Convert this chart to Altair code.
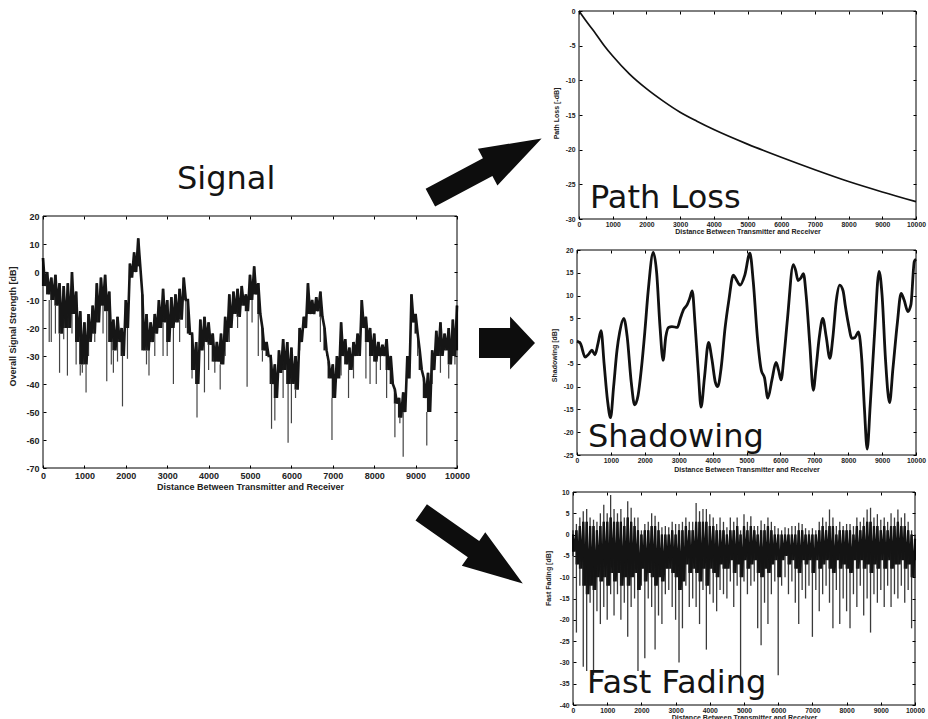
import altair as alt
import pandas as pd

# ------------------------------------------------------------------ data
dist = list(range(0, 10001, 100))
x_ticks = [0, 1000, 2000, 3000, 4000, 5000, 6000, 7000, 8000, 9000, 10000]

# Overall signal: top and bottom of the dark band, every 100 m
sig_upper = [5, 0, -2, -1, -4, -5, -4, 0, -7, -14,
             -18, -15, -12, -4, -2, -1, -7, -17, -16, -20,
             -10, 3, 7, 12, -8, -15, -18, -15, -10, -6,
             -10, -9, -8, -6, -2, -10, -22, -25, -17, -16,
             -18, -22, -25, -22, -16, -8, -7, -6, -5, -8,
             -1, 2, -4, -20, -25, -30, -33, -28, -24, -25,
             -27, -30, -20, -16, -4, -10, -9, -7, -20, -32,
             -33, -30, -18, -24, -27, -25, -22, -10, -16, -20,
             -22, -25, -26, -24, -30, -42, -45, -43, -30, -8,
             -15, -28, -38, -36, -28, -21, -18, -22, -20, -17, -12]
sig_lower = [-5, -8, -10, -12, -22, -20, -20, -15, -25, -33,
             -33, -25, -22, -18, -12, -14, -25, -28, -25, -30,
             -20, -2, 0, 2, -28, -28, -25, -22, -20, -18,
             -25, -20, -18, -17, -10, -22, -35, -40, -28, -25,
             -26, -32, -32, -33, -25, -20, -15, -16, -12, -14,
             -10, -8, -15, -28, -30, -40, -45, -36, -35, -40,
             -40, -42, -25, -20, -15, -15, -14, -16, -28, -38,
             -45, -38, -30, -33, -35, -30, -30, -20, -25, -30,
             -32, -30, -30, -35, -40, -47, -52, -50, -38, -18,
             -22, -35, -45, -50, -35, -30, -30, -28, -33, -30, -28]
# grey excursions hanging below the band
sig_spike_x = [150, 200, 300, 400, 500, 590, 700, 800, 900, 950, 1040, 1100,
               1250, 1450, 1540, 1650, 1700, 1800, 1920, 2040, 2500, 2560,
               2700, 2900, 3000, 3150, 3300, 3450, 3600, 3720, 3900, 4000,
               4150, 4280, 4400, 4500, 4700, 4930, 5050, 5200, 5300, 5520,
               5600, 5800, 5920, 6000, 6100, 6200, 6700, 6850, 6980, 7050,
               7200, 7380, 7500, 7650, 7800, 7900, 8050, 8150, 8300, 8500,
               8620, 8700, 9050, 9270, 9400, 9600, 9800, 9950]
sig_spike_y = [-25, -25, -22, -36, -24, -37, -22, -33, -37, -36, -43, -30,
               -25, -22, -39, -33, -36, -32, -48, -31, -33, -37,
               -30, -30, -30, -40, -25, -20, -38, -52, -43, -35,
               -36, -42, -30, -25, -20, -41, -18, -30, -32, -56,
               -53, -45, -61, -54, -45, -28, -25, -30, -60, -45,
               -37, -45, -38, -30, -38, -40, -40, -35, -45, -59,
               -54, -66, -30, -62, -40, -36, -38, -33]

# Path loss
pl_x = [0, 250, 500, 750, 1000, 1500, 2000, 2500, 3000, 3500, 4000,
        5000, 6000, 7000, 8000, 9000, 10000]
pl_y = [0, -1.7, -3.3, -5.0, -6.5, -9.1, -11.2, -13.0, -14.6, -15.9, -17.1,
        -19.2, -21.1, -22.9, -24.6, -26.1, -27.5]

# Shadowing
sh_x = [0, 100, 240, 350, 440, 530, 620, 710, 800, 900, 990, 1080, 1180, 1260,
        1380, 1480, 1600, 1700, 1800, 1900, 2000, 2100, 2250, 2350, 2450, 2540,
        2620, 2700, 2800, 2960, 3050, 3150, 3250, 3330, 3400, 3480, 3580, 3660,
        3760, 3880, 3980, 4080, 4150, 4250, 4370, 4480, 4610, 4700, 4810, 4950,
        5100, 5200, 5320, 5440, 5530, 5630, 5750, 5870, 5950, 6020, 6110, 6210,
        6380, 6450, 6520, 6600, 6680, 6760, 6870, 6970, 7050, 7150, 7250, 7350,
        7460, 7550, 7650, 7750, 7850, 7910, 8000, 8110, 8200, 8300, 8400, 8480,
        8560, 8650, 8780, 8910, 9000, 9100, 9220, 9320, 9450, 9560, 9650, 9760,
        9850, 9950, 10000]
sh_y = [0, -0.5, -3.5, -2.8, -2, -3, -0.5, 2.3, -5, -13, -16.8, -10, -2, 2,
        5, 1, -9, -14, -12, -6, 2, 11, 19.5, 15, 3, -4.2,
        1, 3, 3.2, 3, 5, 7, 8, 9.5, 11, 4, -7, -14.5,
        -8, -0.3, -4, -9, -10, -6, 3, 9, 14.5, 13.5, 12.3, 14.5,
        19.3, 13, 1, -6.5, -8, -12.5, -8.5, -4.7, -6.5, -8.5, -3, 5,
        16.8, 15.5, 13.3, 13.8, 14.8, 10, -1, -10.8, -6, 1, 5, 1,
        -3.8, 1, 9, 12.3, 11, 8, 4, 0.6, 0.8, 2, -4, -15,
        -23.7, -14, 2, 15.3, 10, -4, -13.5, -6, 4, 10.5, 9, 6.5,
        8, 17.5, 18]

# Fast fading: extremes and dense core, every 100 m
ff_hi = [1, 2.5, 4, 5.5, 6, 4, 3.5, 3, 5, 7,
         5, 9.3, 6, 5, 6, 4, 7.8, 6.3, 4, 4,
         1, 2.5, 3, 5, 4.4, 3, 1.7, 2, 1.7, 3,
         2.5, 2.5, 3, 4, 3, 3, 7.4, 5.5, 6, 6,
         4.8, 4, 2.5, 4, 3, 1.7, 4, 3, 4, 1,
         4.8, 3, 4.3, 2, 2, 3.3, 2.5, 4, 3, 2,
         1.5, 1, 1.7, 1.5, 2, 2, 2.8, 2.5, 1.5, 1,
         1.5, 1, 3, 4, 3, 5.9, 4, 2, 3, 2,
         2.5, 2.5, 2, 4, 3, 4, 5.9, 6.3, 4, 4.8,
         3.5, 4, 3, 5, 4, 5.9, 4, 5, 3, 1, 0]
ff_lo = [-5, -23, -12, -31, -32, -16, -33, -18, -21, -17,
         -20, -14, -19, -14, -20, -16, -24, -17, -15, -32,
         -12, -29, -15, -17, -27, -19, -21, -14, -13, -17,
         -20, -30, -22, -12, -17, -15, -17, -21, -13, -27,
         -14, -16, -18, -13, -14, -15, -11, -17, -12, -37,
         -11, -14, -12, -11, -22, -26, -16, -21, -14, -11,
         -33, -12, -10, -14, -11, -16, -21, -13, -15, -12,
         -24, -13, -18, -14, -12, -16, -22, -13, -21, -15,
         -18, -22, -14, -17, -12, -19, -15, -23, -14, -16,
         -13, -17, -12, -17, -14, -15, -12, -16, -13, -22, -10]
ff_core_hi = [0, 1, 2, 3, 3, 2, 2, 1, 2, 3,
              3, 4, 3, 3, 3, 2, 4, 3, 2, 1,
              0, 1, 1, 2, 2, 1, 0, 0, 0, 1,
              0, 1, 1, 2, 1, 1, 3, 3, 3, 3,
              2, 2, 1, 1, 1, 0, 1, 1, 2, 0,
              2, 1, 2, 1, 0, 1, 1, 2, 1, 0,
              0, 0, 0, 0, 0, 0, 1, 1, 0, 0,
              0, 0, 1, 2, 1, 2, 2, 0, 1, 1,
              1, 1, 0, 2, 1, 2, 3, 3, 2, 2,
              1, 2, 1, 2, 2, 3, 2, 2, 1, 0, -1]
ff_core_lo = [-4, -7, -8, -12, -14, -12, -13, -10, -11, -10,
              -12, -9, -11, -9, -12, -10, -12, -10, -9, -13,
              -8, -11, -9, -10, -12, -10, -11, -8, -8, -9,
              -10, -13, -11, -7, -9, -8, -9, -11, -8, -12,
              -8, -9, -10, -7, -8, -8, -6, -9, -7, -10,
              -6, -8, -7, -6, -9, -10, -8, -9, -7, -6,
              -10, -6, -5, -7, -6, -8, -9, -6, -7, -6,
              -9, -6, -8, -7, -6, -8, -9, -6, -8, -7,
              -8, -9, -6, -8, -6, -8, -7, -9, -7, -8,
              -6, -8, -6, -8, -7, -7, -6, -8, -7, -10, -6]

# ------------------------------------------------------------------ layout
W, H = 928, 719
TICK_FONT = "Liberation Sans"
BIG_FONT = "DejaVu Sans"
XTITLE = "Distance Between Transmitter and Receiver"

P_MAIN = dict(left=43, right=457, top=216, bottom=468, ymin=-70, ymax=20, ystep=10,
              fs=9, tfs=9, xt_dy=18, yt_dx=31, yt_y=326, lpad=3)
P_PL = dict(left=579, right=916, top=11, bottom=219, ymin=-30, ymax=0, ystep=5,
            fs=6.8, tfs=7, xt_dy=12, yt_dx=23, yt_y=113, lpad=2)
P_SH = dict(left=577, right=916, top=250, bottom=455, ymin=-25, ymax=20, ystep=5,
            fs=6.8, tfs=7, xt_dy=14, yt_dx=23, yt_y=355, lpad=2)
P_FF = dict(left=573, right=915, top=492, bottom=705, ymin=-40, ymax=10, ystep=5,
            fs=6.8, tfs=7, xt_dy=12, yt_dx=25, yt_y=578, lpad=2)

LABEL = "'' + datum.value"


def xscale(p):
    return alt.Scale(domain=[0, 10000], range=[p["left"], p["right"]], nice=False, zero=False)


def yscale(p):
    return alt.Scale(domain=[p["ymin"], p["ymax"]], range=[p["bottom"], p["top"]],
                     nice=False, zero=False)


def frame_layers(p, ytitle):
    fdf = pd.DataFrame({"x0": [0], "x1": [10000], "y0": [p["ymin"]], "y1": [p["ymax"]]})
    yvals = list(range(p["ymin"], p["ymax"] + 1, p["ystep"]))
    common = dict(grid=False, domain=False, labelFont=TICK_FONT, labelFontWeight="bold",
                  labelColor="#222", labelFontSize=p["fs"], titleFont=TICK_FONT,
                  titleFontWeight="bold", titleFontSize=p["tfs"], titleColor="#222",
                  labelExpr=LABEL, ticks=False, tickSize=0, labelOverlap=False,
                  labelFlush=False, titleBaseline="middle", titleAlign="center")
    frame = alt.Chart(fdf).mark_rect(fillOpacity=0, stroke="black", strokeWidth=1).encode(
        x=alt.X("x0:Q", scale=xscale(p), axis=alt.Axis(
            orient="bottom", offset=p["bottom"] - H, values=x_ticks, title=XTITLE,
            labelPadding=p["lpad"], titleX=(p["left"] + p["right"]) / 2,
            titleY=p["xt_dy"], **common)),
        x2="x1:Q",
        y=alt.Y("y0:Q", scale=yscale(p), axis=alt.Axis(
            orient="left", offset=-p["left"], values=yvals, title=ytitle,
            labelPadding=4, titleX=-p["yt_dx"], titleY=p["yt_y"], titleAngle=270,
            **common)),
        y2="y1:Q",
    )
    tick_common = dict(grid=False, domain=False, labels=False, tickSize=3,
                       tickColor="black", tickWidth=1, title="")
    inner_bl = alt.Chart(fdf).mark_rect(opacity=0).encode(
        x=alt.X("x0:Q", scale=xscale(p), axis=alt.Axis(
            orient="top", offset=-p["bottom"], values=x_ticks, **tick_common)),
        x2="x1:Q",
        y=alt.Y("y0:Q", scale=yscale(p), axis=alt.Axis(
            orient="right", offset=p["left"] - W, values=yvals, **tick_common)),
        y2="y1:Q",
    )
    inner_tr = alt.Chart(fdf).mark_rect(opacity=0).encode(
        x=alt.X("x0:Q", scale=xscale(p), axis=alt.Axis(
            orient="bottom", offset=p["top"] - H, values=x_ticks, **tick_common)),
        x2="x1:Q",
        y=alt.Y("y0:Q", scale=yscale(p), axis=alt.Axis(
            orient="left", offset=-p["right"], values=yvals, **tick_common)),
        y2="y1:Q",
    )
    return [frame, inner_bl, inner_tr]


def big_label(text, x, y):
    return alt.Chart(pd.DataFrame({"k": [0]})).mark_text(
        font=BIG_FONT, fontSize=32, align="left", baseline="alphabetic", color="#141414"
    ).encode(x=alt.value(x), y=alt.value(y), text=alt.value(text))


def band_rules(df, p, color, width):
    return alt.Chart(df).mark_rule(color=color, strokeWidth=width).encode(
        x=alt.X("d:Q", scale=xscale(p), axis=None),
        y=alt.Y("lo:Q", scale=yscale(p), axis=None), y2="hi:Q")


def noisy_trace(hi, lo, p, color, width):
    # the noisy record swings between the top and the bottom of its band:
    # each 100 m bin contributes its top, then its bottom half a bin later
    d = [v for x in dist for v in (x, x + 50)][:-1]
    v = [w for pair in zip(hi, lo) for w in pair][:-1]
    df = pd.DataFrame({"d": d, "v": v, "o": list(range(len(d)))})
    return alt.Chart(df).mark_line(color=color, strokeWidth=width).encode(
        x=alt.X("d:Q", scale=xscale(p), axis=None),
        y=alt.Y("v:Q", scale=yscale(p), axis=None),
        order="o:Q")


layers = []

# ---- main signal panel
sig_df = pd.DataFrame({"d": dist, "hi": sig_upper, "lo": sig_lower})
spk_top = [sig_lower[int(round(v / 100))] for v in sig_spike_x]
spk_df = pd.DataFrame({"d": sig_spike_x, "lo": sig_spike_y, "hi": spk_top})
layers.append(band_rules(spk_df, P_MAIN, "#444444", 1.2))
layers.append(band_rules(sig_df, P_MAIN, "#1a1a1a", 2.2))
layers.append(noisy_trace(sig_upper, sig_lower, P_MAIN, "#161616", 2.6))
layers += frame_layers(P_MAIN, "Overall Signal Strength [dB]")

# ---- path loss panel
pl_df = pd.DataFrame({"d": pl_x, "v": pl_y})
layers.append(alt.Chart(pl_df).mark_line(color="#111", strokeWidth=1.7, interpolate="monotone").encode(
    x=alt.X("d:Q", scale=xscale(P_PL), axis=None),
    y=alt.Y("v:Q", scale=yscale(P_PL), axis=None)))
layers += frame_layers(P_PL, "Path Loss [-dB]")

# ---- shadowing panel
sh_df = pd.DataFrame({"d": sh_x, "v": sh_y})
layers.append(alt.Chart(sh_df).mark_line(color="#111", strokeWidth=2.8, interpolate="monotone").encode(
    x=alt.X("d:Q", scale=xscale(P_SH), axis=None),
    y=alt.Y("v:Q", scale=yscale(P_SH), axis=None)))
layers += frame_layers(P_SH, "Shadowing [dB]")

# ---- fast fading panel
ff_df = pd.DataFrame({"d": dist, "hi": ff_hi, "lo": ff_lo})
ffc_df = pd.DataFrame({"d": dist, "hi": ff_core_hi, "lo": ff_core_lo})
layers.append(band_rules(ff_df, P_FF, "#3a3a3a", 1.3))
layers.append(band_rules(ffc_df, P_FF, "#1a1a1a", 2.0))
layers.append(noisy_trace(ff_core_hi, ff_core_lo, P_FF, "#141414", 2.2))
layers += frame_layers(P_FF, "Fast Fading [dB]")

# ---- big labels
layers.append(big_label("Signal", 177, 189))
layers.append(big_label("Path Loss", P_PL["left"] + 11, P_PL["bottom"] - 11))
layers.append(big_label("Shadowing", P_SH["left"] + 11, P_SH["bottom"] - 8))
layers.append(big_label("Fast Fading", P_FF["left"] + 14, P_FF["bottom"] - 12))

# ---- arrows
DIAG = "M -1 -0.16 L 0.03 -0.16 L 0.03 -0.33 L 1 0 L 0.03 0.33 L 0.03 0.16 L -1 0.16 Z"
FLAT = "M -1 -0.54 L 0.11 -0.54 L 0.11 -0.95 L 1 0 L 0.11 0.95 L 0.11 0.54 L -1 0.54 Z"


def arrow(shape, x, y, length, angle):
    return alt.Chart(pd.DataFrame({"k": [0]})).mark_point(
        shape=shape, filled=True, color="#0d0d0d", opacity=1, size=length * length,
        angle=angle, strokeWidth=0
    ).encode(x=alt.value(x), y=alt.value(y))


layers.append(arrow(DIAG, 486, 168, 126, 332))
layers.append(arrow(FLAT, 507, 343, 56, 0))
layers.append(arrow(DIAG, 472, 548, 124, 35))

chart = alt.layer(*layers).resolve_scale(
    x="independent", y="independent"
).resolve_axis(
    x="independent", y="independent"
).properties(
    width=W, height=H, padding=0, background="white",
    autosize=alt.AutoSizeParams(type="none"),
).configure_view(strokeWidth=0)

chart.save("out.html", embed_options={"renderer": "svg", "actions": False})
